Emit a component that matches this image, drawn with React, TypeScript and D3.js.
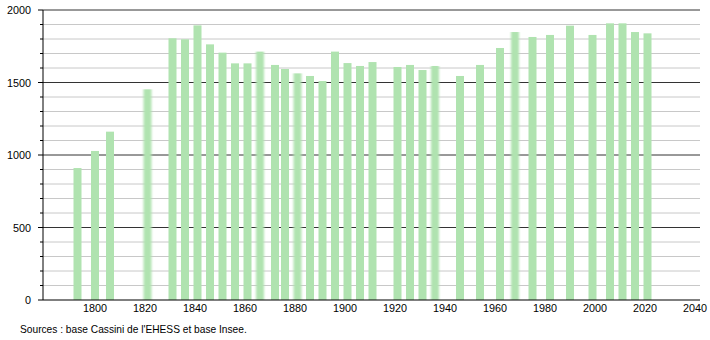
import React from "react";
import * as d3 from "d3";

const years = [1793, 1800, 1806, 1821, 1831, 1836, 1841, 1846, 1851, 1856, 1861, 1866, 1872, 1876, 1881, 1886, 1891, 1896, 1901, 1906, 1911, 1921, 1926, 1931, 1936, 1946, 1954, 1962, 1968, 1975, 1982, 1990, 1999, 2006, 2011, 2016, 2021];
const population = [910, 1028, 1161, 1453, 1805, 1798, 1894, 1763, 1706, 1632, 1632, 1713, 1621, 1593, 1563, 1545, 1510, 1713, 1634, 1614, 1641, 1607, 1621, 1586, 1614, 1545, 1621, 1738, 1848, 1814, 1828, 1892, 1828, 1908, 1908, 1848, 1839];
const blurredYears = [1821, 1866, 1881, 1936, 1968];
const xTicks = [1800, 1820, 1840, 1860, 1880, 1900, 1920, 1940, 1960, 1980, 2000, 2020, 2040];
const yLabels = [0, 500, 1000, 1500, 2000];
const sourceText = "Sources : base Cassini de l'EHESS et base Insee.";

const W = 710, H = 340;
const left = 43, right = 700, top = 10, bottom = 300;

export default function App() {
  const x = d3.scaleLinear().domain([1800, 2040]).range([95, 695]);
  const y = d3.scaleLinear().domain([0, 2000]).range([bottom, top]);
  const minor = d3.range(0, 2001, 100);
  const font = "'Liberation Sans', Arial, sans-serif";
  const barW = 8;
  return (
    <svg width={W} height={H} style={{ position: "fixed", left: 0, top: 0, background: "#fff" }}>
      <defs>
        <filter id="soft" x="-50%" y="-5%" width="200%" height="110%">
          <feGaussianBlur stdDeviation="1.1 0.6" />
        </filter>
      </defs>
      <rect x={0} y={0} width={W} height={H} fill="#fff" />
      {minor.map((v) => {
        const major = v % 500 === 0;
        if (v === 0) return null;
        return (
          <g key={v}>
            <line x1={left} x2={right} y1={y(v)} y2={y(v)} stroke={major ? "#333" : "#c8c8c8"} strokeWidth={1} />
            <line x1={major ? left - 5 : left - 3} x2={left} y1={y(v)} y2={y(v)} stroke="#000" strokeWidth={1} />
          </g>
        );
      })}
      {years.map((yr, i) => (
        <rect
          key={yr}
          x={x(yr) - barW / 2}
          y={y(population[i])}
          width={barW}
          height={bottom - y(population[i])}
          fill="#b0e3b0"
          filter={blurredYears.includes(yr) ? "url(#soft)" : undefined}
        />
      ))}
      <line x1={left} x2={left} y1={top} y2={bottom} stroke="#000" strokeWidth={1} />
      <line x1={left - 5} x2={right} y1={bottom} y2={bottom} stroke="#000" strokeWidth={1.2} />
      {yLabels.map((v) => (
        <text key={v} x={31} y={y(v) + 4} textAnchor="end" fontSize={10.8} fontFamily={font} fill="#000">
          {v}
        </text>
      ))}
      {xTicks.map((t) => (
        <text key={t} x={x(t)} y={312} textAnchor="middle" fontSize={10.8} fontFamily={font} fill="#000">
          {t}
        </text>
      ))}
      <text x={20} y={333} fontSize={10.2} fontFamily={font} fill="#000">
        {sourceText}
      </text>
    </svg>
  );
}
